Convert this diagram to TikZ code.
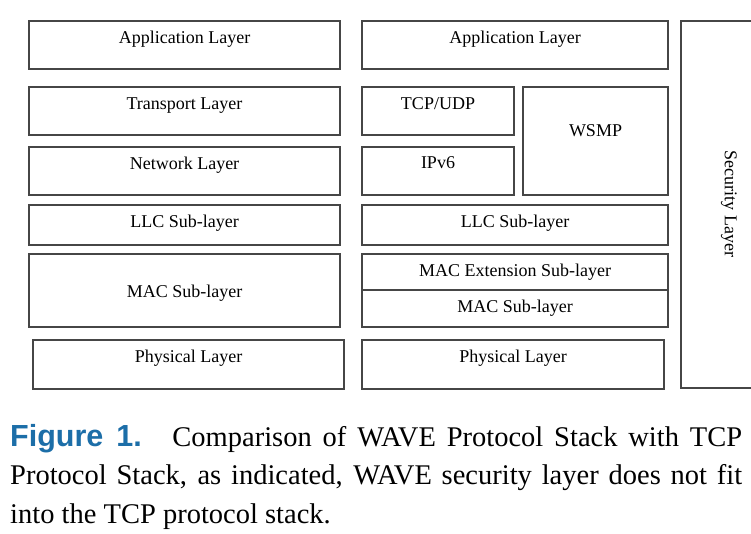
\documentclass[tikz,border=0pt]{standalone}
\usepackage{fontspec}
\setmainfont{Liberation Serif}
\newfontfamily\figfont{Liberation Sans}
\usetikzlibrary{positioning}
\definecolor{framegray}{RGB}{70,70,70}
\definecolor{capblue}{RGB}{28,110,168}

\begin{document}
\begin{tikzpicture}[x=1pt, y=-1pt,
        layer/.style={draw=framegray, line width=1.3pt, rectangle, inner sep=0pt},
        lbl/.style={anchor=base, inner sep=0pt, font=\fontsize{18}{21}\selectfont},
        capline/.style={anchor=base west, inner sep=0pt, font=\fontsize{28.5}{34}\selectfont}]

        \useasboundingbox (0,0) rectangle (751,533);

        % TCP stack
        \node [layer, minimum width=311pt, minimum height=48pt] (tapp) at (184.5,45) {};
        \node [layer, minimum width=311pt, minimum height=48pt] (ttrans) at (184.5,111) {};
        \node [layer, minimum width=311pt, minimum height=48pt] (tnet) at (184.5,171) {};
        \node [layer, minimum width=311pt, minimum height=40pt] (tllc) at (184.5,225) {};
        \node [layer, minimum width=311pt, minimum height=73pt] (tmac) at (184.5,290.5) {};
        \node [layer, minimum width=311pt, minimum height=49pt] (tphy) at (188.5,364.5) {};

        % WAVE stack
        \node [layer, minimum width=306pt, minimum height=48pt] (wapp) at (515,45) {};
        \node [layer, minimum width=152pt, minimum height=48pt] (wtcp) at (438,111) {};
        \node [layer, minimum width=152pt, minimum height=48pt] (wip) at (438,171) {};
        \node [layer, minimum width=145pt, minimum height=108pt] (wsmp) at (595.5,141) {};
        \node [layer, minimum width=306pt, minimum height=40pt] (wllc) at (515,225) {};
        \node [layer, minimum width=306pt, minimum height=36pt] (wmacx) at (515,272) {};
        \node [layer, minimum width=306pt, minimum height=37pt] (wmac) at (515,308.5) {};
        \node [layer, minimum width=302pt, minimum height=49pt] (wphy) at (513,364.5) {};
        \node [layer, minimum width=80pt, minimum height=367pt] (sec) at (721,204.5) {};

        % Labels
        \node [lbl] (tappl) at ([yshift=-23pt]tapp.north) {Application Layer};
        \node [lbl] (ttransl) at ([yshift=-23pt]ttrans.north) {Transport Layer};
        \node [lbl] (tnetl) at ([yshift=-23pt]tnet.north) {Network Layer};
        \node [lbl] (tllcl) at ([yshift=-23pt]tllc.north) {LLC Sub-layer};
        \node [lbl] (tmacl) at ([yshift=-44pt]tmac.north) {MAC Sub-layer};
        \node [lbl] (tphyl) at ([yshift=-23pt]tphy.north) {Physical Layer};
        \node [lbl] (wappl) at ([yshift=-23pt]wapp.north) {Application Layer};
        \node [lbl] (wtcpl) at ([yshift=-23pt]wtcp.north) {TCP/UDP};
        \node [lbl] (wipl) at ([yshift=-22pt]wip.north) {IPv6};
        \node [lbl] (wsmpl) at ([yshift=-50pt]wsmp.north) {WSMP};
        \node [lbl] (wllcl) at ([yshift=-23pt]wllc.north) {LLC Sub-layer};
        \node [lbl] (wmacxl) at ([yshift=-23pt]wmacx.north) {MAC Extension Sub-layer};
        \node [lbl] (wmacl) at ([yshift=-23pt]wmac.north) {MAC Sub-layer};
        \node [lbl] (wphyl) at ([yshift=-23pt]wphy.north) {Physical Layer};
        \node [lbl, anchor=center, rotate=-90] (secl) at (729,204) {Security Layer};

        % Caption
        \node [capline] (cap1) at (10,446) {\makebox[732pt][s]{{\figfont\fontsize{30.5}{34}\selectfont\bfseries\color{capblue}Figure 1.}\hspace{10pt} Comparison of WAVE Protocol Stack with TCP}};
        \node [capline] (cap2) at (10,484.5) {\makebox[732pt][s]{Protocol Stack, as indicated, WAVE security layer does not fit}};
        \node [capline] (cap3) at (10,523) {into the TCP protocol stack.};
\end{tikzpicture}
\end{document}
